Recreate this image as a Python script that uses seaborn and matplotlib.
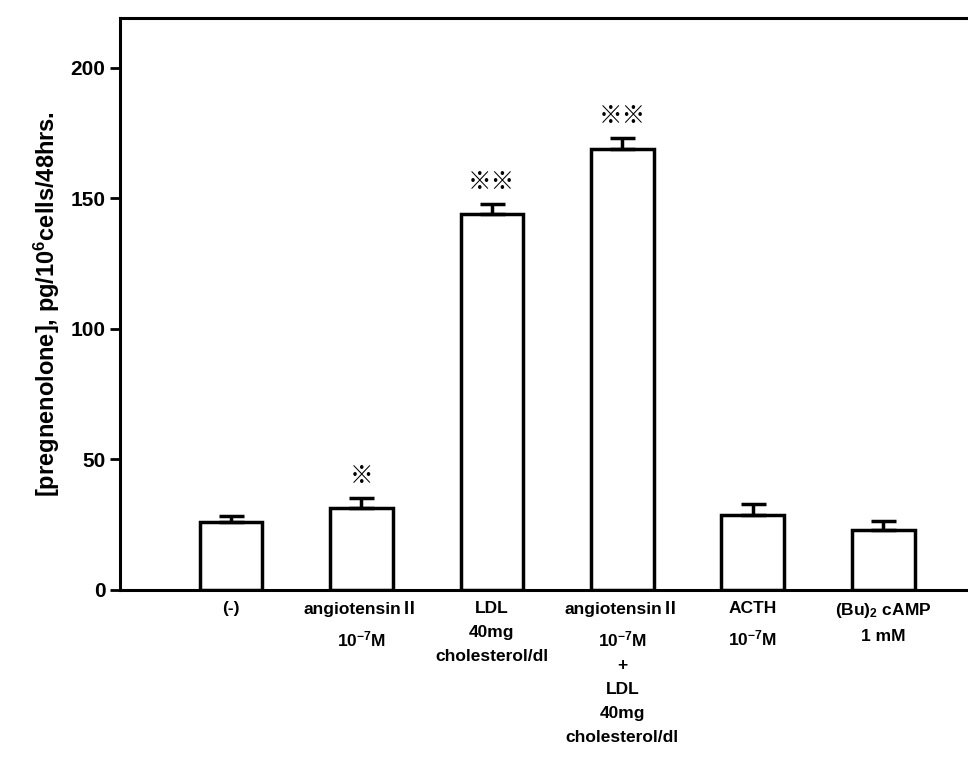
import numpy as np
import pandas as pd
import matplotlib
matplotlib.use("Agg")
import matplotlib.pyplot as plt
import seaborn as sns

# values
groups = ["(-)",
          "angiotensin\u2161\n10$^{-7}$M",
          "LDL\n40mg\ncholesterol/dl",
          "angiotensin\u2161\n10$^{-7}$M\n+\nLDL\n40mg\ncholesterol/dl",
          "ACTH\n10$^{-7}$M",
          "(Bu)$_2$ cAMP\n1 mM"]
means = [26, 31.5, 144, 169, 28.5, 23]
sem = [2.2, 3.5, 3.8, 4.0, 4.5, 3.5]
marks = ["", "\u203b", "\u203b\u203b", "\u203b\u203b", "", ""]

df = pd.DataFrame({"group": groups, "value": means})

sns.set_style("white")
plt.rcParams["font.family"] = ["Liberation Sans", "Noto Sans CJK JP", "DejaVu Sans"]
plt.rcParams["font.weight"] = "bold"
plt.rcParams["text.color"] = "black"
plt.rcParams["axes.labelcolor"] = "black"
plt.rcParams["xtick.color"] = "black"
plt.rcParams["ytick.color"] = "black"
plt.rcParams["mathtext.fontset"] = "custom"
plt.rcParams["mathtext.rm"] = "Liberation Sans:bold"
plt.rcParams["mathtext.it"] = "Liberation Sans:bold"
plt.rcParams["mathtext.bf"] = "Liberation Sans:bold"

fig = plt.figure(figsize=(9.68, 7.6), dpi=100)
ax = fig.add_axes([0.124, 0.224, 0.876, 0.752])

sns.barplot(data=df, x="group", y="value", ax=ax, color="white",
            edgecolor="black", linewidth=2.5, width=0.48, errorbar=None)

xpos = np.arange(len(groups))
ax.errorbar(xpos, means, yerr=[np.zeros(len(sem)), sem], fmt="none",
            ecolor="black", elinewidth=2.5, capsize=9, capthick=2.5)

for x, m, s, t in zip(xpos, means, sem, marks):
    if t:
        ax.text(x, m + s + 4, t, ha="center", va="bottom", fontsize=17,
                fontweight="bold", family=["Noto Sans CJK JP", "DejaVu Sans"])

ax.set_xlim(-0.85, 5.65)
ax.set_ylim(0, 219)
ax.set_yticks([0, 50, 100, 150, 200])
ax.tick_params(axis="y", direction="out", length=7, width=2, labelsize=15, left=True)
ax.tick_params(axis="x", length=0, labelsize=12.5, pad=8)
for lab in ax.get_xticklabels():
    lab.set_linespacing(1.75)
ax.set_xlabel("")
ax.set_ylabel("[pregnenolone], pg/10$^{6}$cells/48hrs.", fontsize=17,
              fontweight="bold", labelpad=6)

ax.spines["right"].set_visible(False)
for s in ["left", "bottom", "top"]:
    ax.spines[s].set_linewidth(2.2)
    ax.spines[s].set_color("black")

fig.savefig("out.png", dpi=100)
